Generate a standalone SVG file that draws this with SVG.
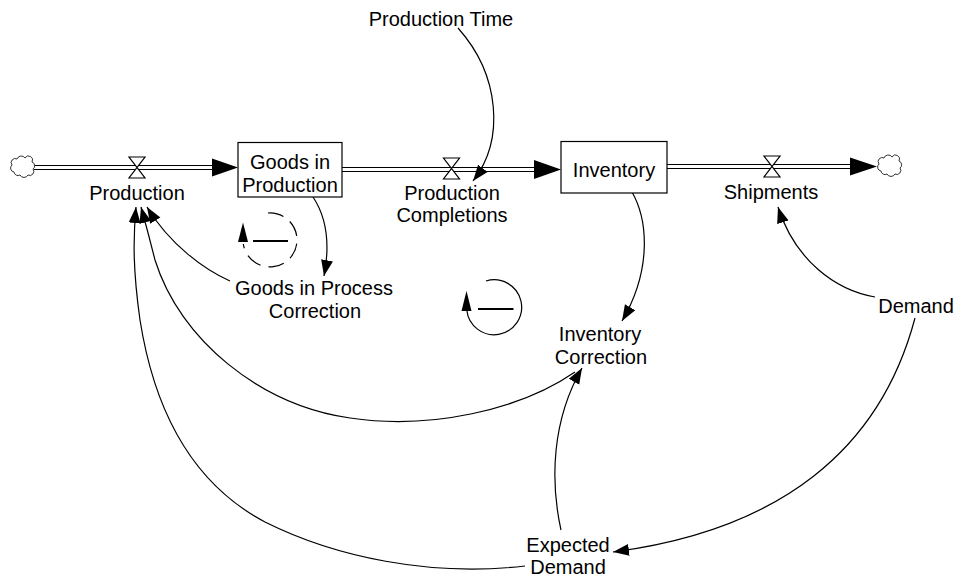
<svg xmlns="http://www.w3.org/2000/svg" width="958" height="577" viewBox="0 0 958 577">
<style>
text{font-family:"Liberation Sans",Arial,sans-serif;font-size:20px;fill:#000;text-anchor:middle}
.pipe{stroke:#000;stroke-width:1.2;fill:none}
.valve{fill:#fff;stroke:#000;stroke-width:1.2}
.cloud{fill:#fff;stroke:#333;stroke-width:1}
.box{fill:#fff;stroke:#000;stroke-width:1.2}
.link{fill:none;stroke:#000;stroke-width:1.2;marker-end:url(#ah)}
.head{fill:#000}
</style>
<defs>
<marker id="ah" markerUnits="userSpaceOnUse" markerWidth="17" markerHeight="13" viewBox="0 0 17 13" refX="16" refY="6.5" orient="auto">
<path d="M0,0.5 L16,6.5 L0,12.5 z" fill="#000"/>
</marker>
</defs>

<g id="flows">
<g id="flow-production">
<line class="pipe" x1="34" y1="165.5" x2="214" y2="165.5"/>
<line class="pipe" x1="34" y1="169.5" x2="214" y2="169.5"/>
<polygon class="head" points="212,158.5 238,167.5 212,176.5"/>
<path class="valve" d="M129,157 L145,157 L129,178 L145,178 Z"/>
</g>
<g id="flow-completions">
<line class="pipe" x1="342" y1="167.5" x2="536" y2="167.5"/>
<line class="pipe" x1="342" y1="171.5" x2="536" y2="171.5"/>
<polygon class="head" points="534,160 561,169.5 534,179"/>
<path class="valve" d="M443.5,158 L459.5,158 L443.5,179 L459.5,179 Z"/>
</g>
<g id="flow-shipments">
<line class="pipe" x1="667" y1="164.5" x2="852" y2="164.5"/>
<line class="pipe" x1="667" y1="168.5" x2="852" y2="168.5"/>
<polygon class="head" points="850,157.5 877,166.5 850,175.5"/>
<path class="valve" d="M764,156 L780,156 L764,177 L780,177 Z"/>
</g>
</g>

<g id="cloud-source">
<path class="cloud" d="M12,165 a4,4 0 0 1 5,-6 a4.5,4.5 0 0 1 8,-1 a4,4 0 0 1 7,4 a4,4 0 0 1 1,7 a4,4 0 0 1 -5,6 a4.5,4.5 0 0 1 -8,0 a4,4 0 0 1 -6,-3 a4,4 0 0 1 -2,-7 z"/>
</g>
<g id="cloud-sink">
<path class="cloud" d="M879,164 a4,4 0 0 1 5,-6 a4.5,4.5 0 0 1 8,-1 a4,4 0 0 1 7,4 a4,4 0 0 1 1,7 a4,4 0 0 1 -5,6 a4.5,4.5 0 0 1 -8,0 a4,4 0 0 1 -6,-3 a4,4 0 0 1 -2,-7 z"/>
</g>

<g id="connectors">
<path class="link" d="M458,28 C500,75 505,140 473,181"/>
<path class="link" d="M313,197 C325,215 331,240 324,276"/>
<path class="link" d="M632,192 C648,220 652,270 622,321"/>
<path class="link" d="M875,297 C835,290 795,260 778,207"/>
<path class="link" d="M915,318 C880,450 780,530 613,552"/>
<path class="link" d="M561,530 C550,480 552,420 582,368"/>
<path class="link" d="M525,566 C430,577 335,557 265,522 C195,485 155,415 140,320 C133,270 133,240 136,207"/>
<path class="link" d="M575,372 C520,410 430,430 350,418 C260,405 180,340 155,260 C150,240 146,225 141,207"/>
<path class="link" d="M230,281 C205,270 170,245 147,207"/>
</g>

<g id="goods-in-production">
<rect class="box" x="238" y="142.5" width="104" height="54.5"/>
<text x="290" y="169">Goods in</text>
<text x="290" y="192">Production</text>
</g>
<g id="inventory">
<rect class="box" x="561" y="141.5" width="106" height="51.5"/>
<text x="614" y="177">Inventory</text>
</g>
<g id="production">
<text x="137" y="200">Production</text>
</g>
<g id="production-completions">
<text x="452" y="200">Production</text>
<text x="452" y="222">Completions</text>
</g>
<g id="shipments">
<text x="771" y="199">Shipments</text>
</g>
<g id="production-time">
<text x="441" y="26">Production Time</text>
</g>
<g id="goods-in-process-correction">
<text x="314" y="295">Goods in Process</text>
<text x="315" y="318">Correction</text>
</g>
<g id="inventory-correction">
<text x="600" y="341">Inventory</text>
<text x="601" y="364">Correction</text>
</g>
<g id="demand">
<text x="916" y="313">Demand</text>
</g>
<g id="expected-demand">
<text x="568" y="552">Expected</text>
<text x="568" y="574">Demand</text>
</g>

<g id="loop-1">
<path d="M268,213 A27,27 0 1 1 243.3,244" fill="none" stroke="#000" stroke-width="1.2" stroke-dasharray="16,8"/>
<polygon class="head" points="243,222.5 238,242 248,242"/>
<line x1="253" y1="241" x2="288" y2="241" stroke="#000" stroke-width="2.2"/>
</g>
<g id="loop-2">
<path d="M486,281 A27.5,27.5 0 1 1 466.8,310" fill="none" stroke="#000" stroke-width="1.2"/>
<polygon class="head" points="466.5,291 461.5,311 471.5,311"/>
<line x1="478" y1="309" x2="513.5" y2="309" stroke="#000" stroke-width="2.2"/>
</g>
</svg>
